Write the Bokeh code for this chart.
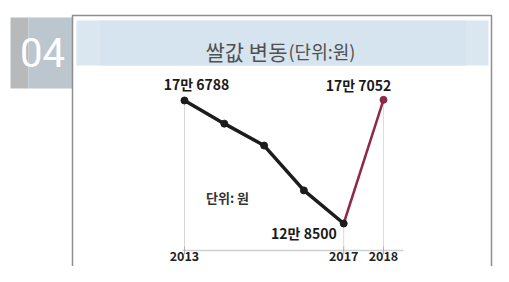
import numpy as np
from bokeh.plotting import figure
from bokeh.models import Range1d, ColumnDataSource
from bokeh.core.properties import value
from bokeh.embed import file_html
from bokeh.resources import INLINE

# ---- data ----
years = [2013, 2014, 2015, 2016, 2017, 2018]
prices = [176788, 167700, 159100, 141500, 128500, 177052]
label_years = [2013, 2017, 2018]
label_prices = [176788, 128500, 177052]
label_texts = ["17만 6788", "12만 8500", "17만 7052"]
tick_years = [2013, 2017, 2018]
tick_labels = ["2013", "2017", "2018"]
title_main = "쌀값 변동"
title_unit = "(단위:원)"
unit_note = "단위: 원"
badge = "04"

KR = value("Noto Sans CJK KR")

W, H = 493, 266
p = figure(width=W, height=H, output_backend="svg", toolbar_location=None,
           x_range=Range1d(2008.377, 2020.764), y_range=Range1d(111618, 216048),
           x_axis_location=None, y_axis_location=None,
           min_border=0, min_border_left=0, min_border_right=0,
           min_border_top=0, min_border_bottom=0)
p.grid.visible = False
p.outline_line_color = None
p.background_fill_color = "#ffffff"
p.border_fill_color = "#ffffff"

# pixel helper ranges for the decorative frame
p.extra_x_ranges = {"px": Range1d(0, W)}
p.extra_y_ranges = {"px": Range1d(H, 0)}

# badge
p.quad(left=[10], right=[28], top=[17], bottom=[88], fill_color="#b7b9bb",
       line_color=None, x_range_name="px", y_range_name="px")
p.quad(left=[28], right=[72], top=[17], bottom=[88], fill_color="#bcc6cf",
       line_color=None, x_range_name="px", y_range_name="px")
p.text(x=[42], y=[52], text=[badge], text_color="white", text_align="center",
       text_baseline="middle", text_font=value("Roboto"),
       text_font_size="40px", x_range_name="px", y_range_name="px")

# frame
p.line(x=[72, 72, 491, 491], y=[H, 15, 15, H], line_color="#8e8e8e",
       line_width=1.5, x_range_name="px", y_range_name="px")
# title bar (slightly lighter toward the ends)
p.quad(left=[76], right=[488], top=[20], bottom=[65], fill_color="#dae7f0",
       line_color=None, x_range_name="px", y_range_name="px")
p.quad(left=[100], right=[465], top=[20], bottom=[65], fill_color="#d5e4ee",
       line_color=None, x_range_name="px", y_range_name="px")
p.text(x=[205], y=[50], text=[title_main], text_color="#505050", text_align="left",
       text_baseline="alphabetic", text_font=KR, text_font_size="21px",
       x_range_name="px", y_range_name="px")
p.text(x=[288], y=[50], text=[title_unit], text_color="#505050", text_align="left",
       text_baseline="alphabetic", text_font=KR, text_font_size="18px",
       x_range_name="px", y_range_name="px")

# axis (drawn in data space)
AXIS_BASE = 117900
p.segment(x0=tick_years, y0=label_prices, x1=tick_years, y1=[AXIS_BASE] * 3,
          line_color=["#d8d8d8", "#d8d8d8", "#ecd3dc"], line_width=1)
p.line(x=[2012.95, 2018.5], y=[AXIS_BASE, AXIS_BASE], line_color="#cfcfcf", line_width=1.5)
p.scatter(x=tick_years, y=[AXIS_BASE] * 3, marker="dash", angle=np.pi / 2, size=8,
          line_color="#b0b0b0", line_width=1)
p.text(x=tick_years, y=[AXIS_BASE] * 3, text=tick_labels, text_align="center",
       text_baseline="top", y_offset=1, text_font=KR, text_font_style="bold",
       text_font_size="12.5px", text_color="#222222")

# data line
p.line(x=years[:5], y=prices[:5], line_color="#1c1c1c", line_width=3.5)
p.line(x=years[4:], y=prices[4:], line_color="#8c2a47", line_width=2.5)
p.scatter(x=years[:5], y=prices[:5], size=7, fill_color="#1c1c1c", line_color="#1c1c1c")
p.scatter(x=years[5:], y=prices[5:], size=7, fill_color="#8c2a47", line_color="#8c2a47")

# value labels
src = ColumnDataSource(dict(x=label_years, y=label_prices, t=label_texts,
                            xo=[12, -7, -25], yo=[-7, 10, -5],
                            al=["center", "right", "center"],
                            bl=["bottom", "middle", "bottom"]))
p.text(x="x", y="y", text="t", source=src, x_offset="xo", y_offset="yo",
       text_align="al", text_baseline="bl", text_font=KR, text_font_style="bold",
       text_font_size="14px", text_color="#1a1a1a")

p.text(x=[227], y=[197], text=[unit_note], text_align="center", text_baseline="middle",
       text_font=KR, text_font_style="bold", text_font_size="13px", text_color="#333333",
       x_range_name="px", y_range_name="px")

open("out.html", "w").write(file_html(p, INLINE))
